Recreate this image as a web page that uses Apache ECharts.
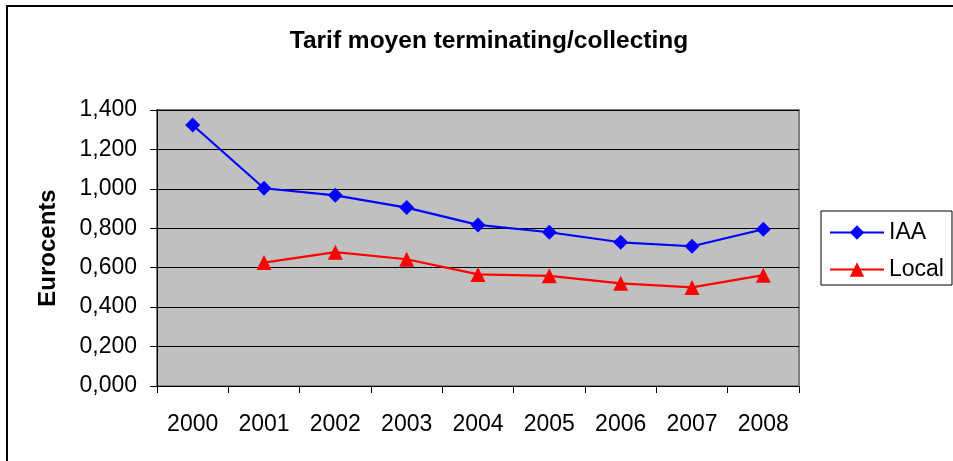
<!DOCTYPE html>
<html>
<head>
<meta charset="utf-8">
<script src="https://cdn.jsdelivr.net/npm/echarts@6/dist/echarts.min.js"></script>
<style>
html,body{margin:0;padding:0;background:#fff;}
#c{width:953px;height:461px;}
</style>
</head>
<body>
<div id="c"></div>
<script>
var titleText = 'Tarif moyen terminating/collecting';
var yAxisTitle = 'Eurocents';
var categories = ['2000','2001','2002','2003','2004','2005','2006','2007','2008'];
var iaaValues = [1.324, 1.003, 0.967, 0.905, 0.817, 0.780, 0.729, 0.709, 0.795];
var localValues = [null, 0.626, 0.679, 0.643, 0.566, 0.559, 0.521, 0.500, 0.562];
var seriesNames = ['IAA', 'Local'];

var chart = echarts.init(document.getElementById('c'), null, {renderer:'canvas'});
var font = 'Arial, "Liberation Sans", sans-serif';
chart.setOption({
  animation: false,
  backgroundColor: '#ffffff',
  title: {
    text: titleText,
    left: 484, top: 24,
    textAlign: 'center',
    textStyle: {fontFamily: font, fontSize: 24.5, fontWeight: 'bold', color: '#000'}
  },
  graphic: [
    {type: 'rect', shape: {x: 7, y: 6, width: 1000, height: 1000},
     style: {fill: 'none', stroke: '#000', lineWidth: 2}, silent: true, z: -1},
    {type: 'text', x: 48, y: 248, rotation: Math.PI/2,
     style: {text: yAxisTitle, font: 'bold 24px ' + font, fill: '#000', align: 'center', verticalAlign: 'middle'}}
  ],
  legend: {
    left: 821, top: 211, orient: 'vertical',
    padding: [10, 8, 4, 8],
    itemWidth: 54, itemHeight: 18, itemGap: 14,
    borderColor: '#000', borderWidth: 1,
    textStyle: {fontFamily: font, fontSize: 23, color: '#000'},
    data: seriesNames
  },
  grid: {
    left: 157, top: 110, width: 642, height: 276,
    show: true, backgroundColor: '#c0c0c0', borderColor: '#808080', borderWidth: 2,
    containLabel: false
  },
  xAxis: {
    type: 'category', data: categories, boundaryGap: true,
    axisLine: {show: true, lineStyle: {color: '#000', width: 1}},
    axisTick: {show: true, interval: 0, length: 7, lineStyle: {color: '#000'}},
    axisLabel: {interval: 0, margin: 27, fontFamily: font, fontSize: 23, color: '#000'},
    splitLine: {show: false}
  },
  yAxis: {
    type: 'value', min: 0, max: 1.4, interval: 0.2,
    axisLine: {show: true, lineStyle: {color: '#000', width: 1}},
    axisTick: {show: true, length: 7, lineStyle: {color: '#000'}},
    axisLabel: {margin: 20, fontFamily: font, fontSize: 23, color: '#000',
      formatter: function(v){ return v.toFixed(3).replace('.', ','); }},
    splitLine: {show: true, lineStyle: {color: '#000', width: 1}}
  },
  series: [
    {name: seriesNames[0], type: 'line', data: iaaValues,
     symbol: 'diamond', symbolSize: 15, showAllSymbol: true,
     lineStyle: {color: '#0000ff', width: 2.2}, itemStyle: {color: '#0000ff'}},
    {name: seriesNames[1], type: 'line', data: localValues, connectNulls: false,
     symbol: 'triangle', symbolSize: 15, showAllSymbol: true,
     lineStyle: {color: '#ff0000', width: 2.2}, itemStyle: {color: '#ff0000'}}
  ]
});
</script>
</body>
</html>
